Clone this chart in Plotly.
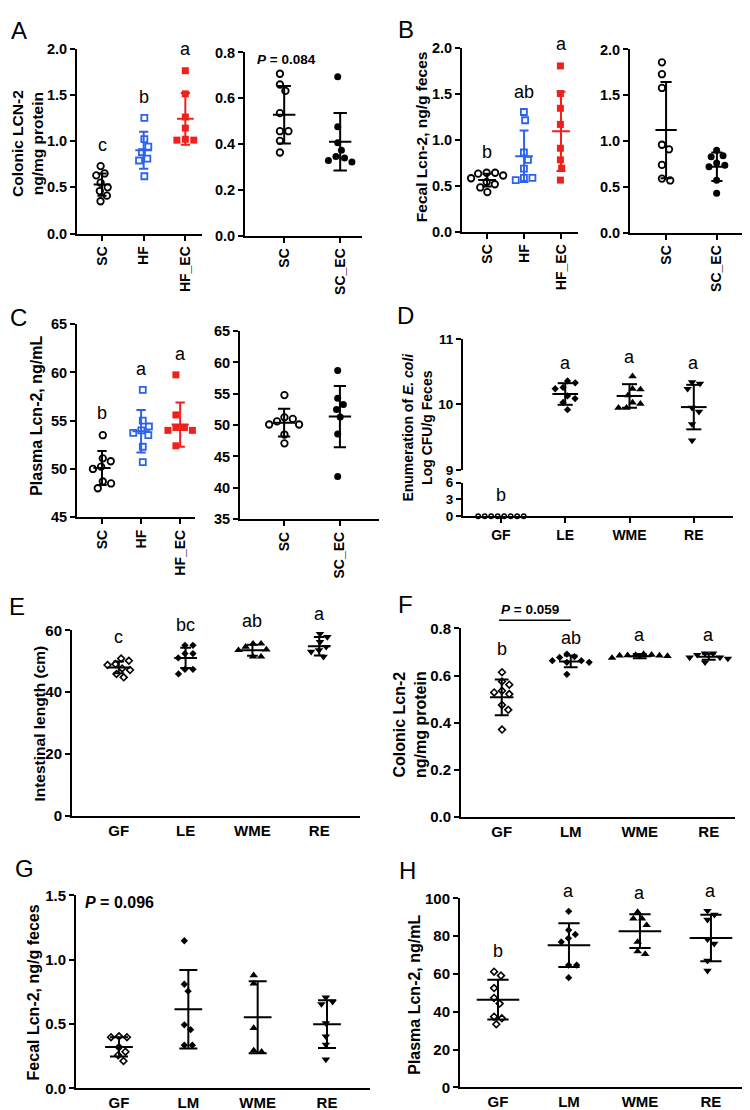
import math
import plotly.graph_objects as go

FW, FH = 750, 1110
FONT = "Liberation Sans, Arial, sans-serif"
BLUE = "#2d62f0"
RED = "#f0201c"
BLACK = "#000000"

# ---------------- DATA ----------------
# Panel A: Colonic LCN-2 (ng/mg protein)
A1_cats = ["SC", "HF", "HF_EC"]
A1_SC = [0.73, 0.65, 0.63, 0.55, 0.50, 0.46, 0.41, 0.35]
A1_HF = [1.25, 1.02, 0.94, 0.88, 0.81, 0.79, 0.62]
A1_HFEC = [1.76, 1.51, 1.26, 1.14, 1.02, 1.01, 1.01]
A1_mean = [0.53, 0.90, 1.24]
A1_sd = [0.12, 0.20, 0.28]
A1_letters = ["c", "b", "a"]

A2_cats = ["SC", "SC_EC"]
A2_SC = [0.707, 0.66, 0.632, 0.535, 0.456, 0.456, 0.414, 0.363]
A2_SCEC = [0.694, 0.476, 0.406, 0.373, 0.339, 0.345, 0.321, 0.328]
A2_mean = [0.528, 0.41]
A2_sd = [0.126, 0.126]
A2_p = "0.084"

# Panel B: Fecal Lcn-2 (ng/g feces)
B1_cats = ["SC", "HF", "HF_EC"]
B1_SC = [0.64, 0.64, 0.63, 0.61, 0.58, 0.54, 0.515, 0.48, 0.43]
B1_HF = [1.30, 1.21, 0.86, 0.78, 0.685, 0.585, 0.585, 0.56]
B1_HFEC = [1.80, 1.50, 1.34, 1.165, 0.906, 0.78, 0.69, 0.56]
B1_mean = [0.56, 0.82, 1.09]
B1_sd = [0.07, 0.28, 0.43]
B1_letters = ["b", "ab", "a"]

B2_cats = ["SC", "SC_EC"]
B2_SC = [1.86, 1.73, 1.58, 0.96, 0.91, 0.74, 0.59, 0.57]
B2_SCEC = [0.90, 0.84, 0.83, 0.76, 0.735, 0.72, 0.573, 0.43]
B2_mean = [1.12, 0.72]
B2_sd = [0.525, 0.155]

# Panel C: Plasma Lcn-2 (ng/mL)
C1_cats = ["SC", "HF", "HF_EC"]
C1_SC = [53.5, 51.1, 50.8, 50.25, 50.0, 48.7, 48.5, 48.0]
C1_HF = [58.2, 55.0, 54.4, 54.0, 53.75, 53.5, 52.3, 50.7]
C1_HFEC = [59.75, 55.6, 54.3, 54.3, 54.0, 54.0, 52.4]
C1_mean = [50.1, 53.9, 54.6]
C1_sd = [1.75, 2.2, 2.3]
C1_letters = ["b", "a", "a"]

C2_cats = ["SC", "SC_EC"]
C2_SC = [54.8, 51.25, 51.0, 50.6, 50.1, 50.1, 48.5, 47.1]
C2_SCEC = [58.7, 54.3, 53.3, 52.5, 51.3, 48.6, 41.8]
C2_mean = [50.4, 51.36]
C2_sd = [2.2, 4.9]

# Panel D: Enumeration of E. coli (log CFU/g feces)
D_cats = ["GF", "LE", "WME", "RE"]
D_GF = [0, 0, 0, 0, 0, 0, 0, 0]
D_LE = [10.36, 10.33, 10.26, 10.24, 10.13, 10.09, 10.03, 9.92]
D_WME = [10.43, 10.24, 10.23, 10.14, 10.03, 10.01, 9.95, 9.95]
D_RE = [10.34, 10.32, 10.24, 9.95, 9.89, 9.70, 9.45]
D_mean = [None, 10.16, 10.13, 9.96]
D_sd = [None, 0.165, 0.18, 0.34]
D_letters = ["b", "a", "a", "a"]

# Panel E: Intestinal length (cm)
E_cats = ["GF", "LE", "WME", "RE"]
E_GF = [50.9, 50.2, 49.1, 48.8, 47.7, 47.2, 45.9, 44.8]
E_LE = [55.2, 55.2, 52.5, 52.5, 51.1, 47.4, 47.4, 45.9]
E_WME = [55.7, 55.7, 54.7, 53.8, 53.6, 51.5, 51.5]
E_RE = [58.9, 57.9, 56.3, 54.7, 53.6, 53.1, 51.5]
E_mean = [48.0, 51.1, 53.6, 54.9]
E_sd = [1.9, 3.3, 1.8, 3.0]
E_letters = ["c", "bc", "ab", "a"]

# Panel F: Colonic Lcn-2 (ng/mg protein)
F_cats = ["GF", "LM", "WME", "RE"]
F_GF = [0.614, 0.575, 0.561, 0.535, 0.528, 0.521, 0.475, 0.454, 0.37]
F_LM = [0.691, 0.68, 0.677, 0.663, 0.663, 0.656, 0.656, 0.605]
F_WME = [0.691, 0.688, 0.687, 0.686, 0.685, 0.685, 0.683, 0.675]
F_RE = [0.694, 0.694, 0.688, 0.677, 0.677, 0.672, 0.656]
F_mean = [0.507, 0.66, 0.682, 0.68]
F_sd = [0.076, 0.025, 0.009, 0.013]
F_letters = ["b", "ab", "a", "a"]
F_p = "0.059"

# Panel G: Fecal Lcn-2 (ng/g feces)
G_cats = ["GF", "LM", "WME", "RE"]
G_GF = [0.404, 0.397, 0.397, 0.32, 0.284, 0.258, 0.212]
G_LM = [1.147, 0.809, 0.755, 0.494, 0.456, 0.335, 0.335]
G_WME = [0.878, 0.814, 0.468, 0.294, 0.284]
G_RE = [0.706, 0.673, 0.655, 0.507, 0.404, 0.34, 0.225]
G_mean = [0.322, 0.614, 0.553, 0.499]
G_sd = [0.075, 0.305, 0.28, 0.185]
G_p = "0.096"

# Panel H: Plasma Lcn-2 (ng/mL)
H_cats = ["GF", "LM", "WME", "RE"]
H_GF = [61.2, 59.1, 52.5, 47.3, 44.3, 37.4, 36.5, 33.4]
H_LM = [93.1, 83.2, 80.9, 78.8, 76.9, 64.7, 64.7, 58.0]
H_WME = [92.7, 89.2, 89.2, 85.8, 76.9, 71.9, 70.5]
H_RE = [93.4, 91.3, 88.7, 78.3, 76.0, 67.0, 61.7]
H_mean = [46.4, 75.2, 82.6, 79.0]
H_sd = [10.5, 11.6, 8.9, 12.3]
H_letters = ["b", "a", "a", "a"]

# ---------------- STYLES ----------------
OPEN_CIRCLE = dict(symbol="circle-open", size=6.5, lw=1.8)
FILL_CIRCLE = dict(symbol="circle", size=7, lw=0)
OPEN_SQUARE = dict(symbol="square-open", size=6, lw=1.8)
FILL_SQUARE = dict(symbol="square", size=7, lw=0)
OPEN_DIAM = dict(symbol="diamond-open", size=5.2, lw=1.6)
FILL_DIAM = dict(symbol="diamond", size=5.6, lw=0)
TRI_UP = dict(symbol="triangle-up", size=7.5, lw=0)
TRI_DN = dict(symbol="triangle-down", size=7.5, lw=0)
SMALL_OPEN_CIRCLE = dict(symbol="circle-open", size=4.5, lw=1.4)


def swarm(vals, ppu, d):
    """Deterministic beeswarm offsets (pixels) so markers do not overlap; centred."""
    n = len(vals)
    order = sorted(range(n), key=lambda i: -vals[i])
    placed = []
    xs = [0.0] * n
    for i in order:
        y = vals[i] * ppu
        cands = [0.0]
        for px, py in placed:
            dy = abs(py - y)
            if dy < d:
                dx = math.sqrt(d * d - dy * dy)
                cands += [px + dx, px - dx]
        cands.sort(key=lambda c: (round(abs(c), 6), -c))
        for c in cands:
            if all((c - px) ** 2 + (y - py) ** 2 >= d * d - 1e-6 for px, py in placed):
                xs[i] = c
                placed.append((c, y))
                break
    shift = (max(xs) + min(xs)) / 2.0
    return [x - shift for x in xs]


def dom(x0, x1, y0, y1):
    return [x0 / FW, x1 / FW], [1 - y1 / FH, 1 - y0 / FH]


def aname(kind, k):
    return kind if k == 1 else f"{kind}{k}"


fig = go.Figure()
layout = {}
annotations = []

panels = [
    dict(id=1, box=(69, 194, 32, 220), xr=(-0.6, 2.4), yr=(0, 2.0), yt=[0, 0.5, 1.0, 1.5, 2.0], fmt=".1f",
         cats=A1_cats, rot=True,
         groups=[(A1_SC, OPEN_CIRCLE, BLACK), (A1_HF, OPEN_SQUARE, BLUE), (A1_HFEC, FILL_SQUARE, RED)],
         mean=A1_mean, sd=A1_sd, mh=0.2, ch=0.11, d=8.5,
         letters=A1_letters, ly=[0.96, 1.48, 1.99]),
    dict(id=2, box=(237, 354, 36, 222), xr=(-0.7, 1.39), yr=(0, 0.8), yt=[0, 0.2, 0.4, 0.6, 0.8], fmt=".1f",
         cats=A2_cats, rot=True,
         groups=[(A2_SC, OPEN_CIRCLE, BLACK), (A2_SCEC, FILL_CIRCLE, BLACK)],
         mean=A2_mean, sd=A2_sd, mh=0.2, ch=0.12, d=8.5),
    dict(id=3, box=(454, 570, 31, 218), xr=(-0.68, 2.46), yr=(0, 2.0), yt=[0, 0.5, 1.0, 1.5, 2.0], fmt=".1f",
         cats=B1_cats, rot=True,
         groups=[(B1_SC, OPEN_CIRCLE, BLACK), (B1_HF, OPEN_SQUARE, BLUE), (B1_HFEC, FILL_SQUARE, RED)],
         mean=B1_mean, sd=B1_sd, mh=0.24, ch=0.12, d=8.5,
         letters=B1_letters, ly=[0.87, 1.52, 2.035]),
    dict(id=4, box=(622, 746, 33, 219), xr=(-0.71, 1.73), yr=(0, 2.0), yt=[0, 0.5, 1.0, 1.5, 2.0], fmt=".1f",
         cats=B2_cats, rot=True,
         groups=[(B2_SC, OPEN_CIRCLE, BLACK), (B2_SCEC, FILL_CIRCLE, BLACK)],
         mean=B2_mean, sd=B2_sd, mh=0.21, ch=0.11, d=8.5),
    dict(id=5, box=(69, 187, 312, 508), xr=(-0.64, 2.38), yr=(45, 65), yt=[45, 50, 55, 60, 65], fmt="d",
         cats=C1_cats, rot=True,
         groups=[(C1_SC, OPEN_CIRCLE, BLACK), (C1_HF, OPEN_SQUARE, BLUE), (C1_HFEC, FILL_SQUARE, RED)],
         mean=C1_mean, sd=C1_sd, mh=0.22, ch=0.12, d=8.5,
         letters=C1_letters, ly=[55.75, 60.4, 61.95]),
    dict(id=6, box=(232, 371, 319, 510), xr=(-0.79, 1.70), yr=(35, 65), yt=[35, 40, 45, 50, 55, 60, 65], fmt="d",
         cats=C2_cats, rot=True,
         groups=[(C2_SC, OPEN_CIRCLE, BLACK), (C2_SCEC, FILL_CIRCLE, BLACK)],
         mean=C2_mean, sd=C2_sd, mh=0.2, ch=0.11, d=8.5),
    dict(id=9, box=(64, 352, 623, 811), xr=(-0.70, 3.61), yr=(0, 60), yt=[0, 20, 40, 60], fmt="d",
         cats=E_cats, rot=False,
         groups=[(E_GF, OPEN_DIAM, BLACK), (E_LE, FILL_DIAM, BLACK), (E_WME, TRI_UP, BLACK), (E_RE, TRI_DN, BLACK)],
         mean=E_mean, sd=E_sd, mh=0.17, ch=0.08, d=8,
         letters=E_letters, ly=[57.9, 61.9, 63.2, 65.3]),
    dict(id=10, box=(453, 727, 621, 812), xr=(-0.59, 3.38), yr=(0, 0.8), yt=[0, 0.2, 0.4, 0.6, 0.8], fmt=".1f",
         cats=F_cats, rot=False,
         groups=[(F_GF, OPEN_DIAM, BLACK), (F_LM, FILL_DIAM, BLACK), (F_WME, TRI_UP, BLACK), (F_RE, TRI_DN, BLACK)],
         mean=F_mean, sd=F_sd, mh=0.17, ch=0.1, d=8,
         letters=F_letters, ly=[0.712, 0.761, 0.771, 0.771]),
    dict(id=11, box=(68, 362, 892, 1088), xr=(-0.62, 3.62), yr=(0, 1.5), yt=[0, 0.5, 1.0, 1.5], fmt=".1f",
         cats=G_cats, rot=False,
         groups=[(G_GF, OPEN_DIAM, BLACK), (G_LM, FILL_DIAM, BLACK), (G_WME, TRI_UP, BLACK), (G_RE, TRI_DN, BLACK)],
         mean=G_mean, sd=G_sd, mh=0.2, ch=0.13, d=8),
    dict(id=12, box=(452, 742, 895, 1087), xr=(-0.535, 3.55), yr=(0, 100), yt=[0, 20, 40, 60, 80, 100], fmt="d",
         cats=H_cats, rot=False,
         groups=[(H_GF, OPEN_DIAM, BLACK), (H_LM, FILL_DIAM, BLACK), (H_WME, TRI_UP, BLACK), (H_RE, TRI_DN, BLACK)],
         mean=H_mean, sd=H_sd, mh=0.3, ch=0.15, d=8,
         letters=H_letters, ly=[72.2, 103.8, 103.0, 103.8]),
]


def axis_style(tsize, ticks=True):
    return dict(showline=True, linecolor=BLACK, linewidth=2, ticks="outside" if ticks else "",
                ticklen=5, tickwidth=2, tickcolor=BLACK, showgrid=False, zeroline=False,
                tickfont=dict(family=FONT, size=tsize, color=BLACK, weight="bold"))


def add_markers(vals, style, color, xpos, ppu, ppc, d, xa, ya):
    offs = swarm(vals, ppu, d)
    xs = [xpos + o / ppc for o in offs]
    fig.add_trace(go.Scatter(
        x=xs, y=vals, xaxis=xa, yaxis=ya, mode="markers", cliponaxis=False, showlegend=False,
        hoverinfo="skip",
        marker=dict(symbol=style["symbol"], size=style["size"], color=color,
                    line=dict(width=style["lw"], color=color))))


def add_errbar(xpos, m, s, mh, ch, color, xa, ya):
    if m is None:
        return
    xs = [xpos - mh, xpos + mh, None, xpos, xpos, None, xpos - ch, xpos + ch, None, xpos - ch, xpos + ch]
    ys = [m, m, None, m - s, m + s, None, m + s, m + s, None, m - s, m - s]
    fig.add_trace(go.Scatter(x=xs, y=ys, xaxis=xa, yaxis=ya, mode="lines", cliponaxis=False,
                             showlegend=False, hoverinfo="skip",
                             line=dict(color=color, width=2)))


def letter(text, x, yval, yr, xa, ya):
    # y given in data units, converted to the axis domain so labels above the range still show
    frac = (yval - yr[0]) / (yr[1] - yr[0])
    annotations.append(dict(x=x, y=frac, xref=xa, yref=f"{ya} domain", text=text, showarrow=False,
                            xanchor="center", yanchor="middle",
                            font=dict(family=FONT, size=18, color=BLACK)))


for p in panels:
    k = p["id"]
    xa, ya = aname("x", k), aname("y", k)
    x0, x1, y0, y1 = p["box"]
    xd, yd = dom(x0, x1, y0, y1)
    top_row = k <= 6
    xt = 14 if top_row else 15
    yt = 14.5 if top_row else 15
    xax = dict(domain=xd, range=list(p["xr"]), anchor=ya, tickmode="array",
               tickvals=list(range(len(p["cats"]))), ticktext=p["cats"],
               tickangle=-90 if p["rot"] else 0, **axis_style(xt, ticks=top_row))
    yax = dict(domain=yd, range=list(p["yr"]), anchor=xa, tickmode="array", tickvals=p["yt"],
               tickformat=p["fmt"], **axis_style(yt))
    layout[aname("xaxis", k)] = xax
    layout[aname("yaxis", k)] = yax
    ppu = (y1 - y0) / (p["yr"][1] - p["yr"][0])
    ppc = (x1 - x0) / (p["xr"][1] - p["xr"][0])
    for gi, (vals, style, color) in enumerate(p["groups"]):
        add_markers(vals, style, color, gi, ppu, ppc, p["d"], xa, ya)
    for gi, (vals, style, color) in enumerate(p["groups"]):
        add_errbar(gi, p["mean"][gi], p["sd"][gi], p["mh"], p["ch"], color, xa, ya)
    if "letters" in p:
        for gi, (t, yy) in enumerate(zip(p["letters"], p["ly"])):
            letter(t, gi, yy, p["yr"], xa, ya)

# ---- Panel D: broken y axis (upper 9-11, lower 0-6) ----
Dx0, Dx1 = 455, 725
Dxr = (-0.59, 3.61)
xd, yd_up = dom(Dx0, Dx1, 327, 460)
_, yd_lo = dom(Dx0, Dx1, 473, 507)
layout["xaxis7"] = dict(domain=xd, range=list(Dxr), anchor="y8", tickmode="array",
                        tickvals=list(range(len(D_cats))), ticktext=D_cats, **axis_style(14))
layout["yaxis7"] = dict(domain=yd_up, range=[9, 11], anchor="x7", tickmode="array", tickvals=[9, 10, 11],
                        tickformat="d", **axis_style(13.5))
layout["yaxis8"] = dict(domain=yd_lo, range=[0, 6], anchor="x7", tickmode="array", tickvals=[0, 3, 6],
                        tickformat="d", **axis_style(13.5))
ppc_D = (Dx1 - Dx0) / (Dxr[1] - Dxr[0])
ppu_up = (460 - 327) / 2.0
ppu_lo = (507 - 473) / 6.0
add_markers(D_GF, SMALL_OPEN_CIRCLE, BLACK, 0, ppu_lo, ppc_D, 6.5, "x7", "y8")
add_markers(D_LE, FILL_DIAM, BLACK, 1, ppu_up, ppc_D, 8, "x7", "y7")
add_markers(D_WME, TRI_UP, BLACK, 2, ppu_up, ppc_D, 8, "x7", "y7")
add_markers(D_RE, TRI_DN, BLACK, 3, ppu_up, ppc_D, 8, "x7", "y7")
for gi in range(1, 4):
    add_errbar(gi, D_mean[gi], D_sd[gi], 0.2, 0.117, BLACK, "x7", "y7")
letter(D_letters[0], 0, 3.8, (0, 6), "x7", "y8")
for gi, yy in zip(range(1, 4), [10.63, 10.73, 10.63]):
    letter(D_letters[gi], gi, yy, (9, 11), "x7", "y7")

# ---- P value texts and bracket ----
annotations.append(dict(x=-0.52, y=0.771, xref="x2", yref="y2", text=f"<b><i>P</i> = {A2_p}</b>",
                        showarrow=False, xanchor="left", yanchor="middle",
                        font=dict(family=FONT, size=13.5, color=BLACK)))
F_ppc = (727 - 453) / (3.38 + 0.59)
annotations.append(dict(x=0.41, y=0.88 / 0.8, xref="x10", yref="y10 domain",
                        text=f"<b><i>P</i> = {F_p}</b>",
                        showarrow=False, xanchor="center", yanchor="middle",
                        font=dict(family=FONT, size=13.5, color=BLACK)))
annotations.append(dict(x=1.0, y=0.835 / 0.8, xref="x10", yref="y10 domain",
                        ax=-(1.0 + 0.06) * F_ppc, ay=0, text="", showarrow=True, arrowhead=0,
                        arrowwidth=1.6, arrowcolor=BLACK, standoff=0, startstandoff=0))
annotations.append(dict(x=-0.52, y=1.446, xref="x11", yref="y11", text=f"<b><i>P</i> = {G_p}</b>",
                        showarrow=False, xanchor="left", yanchor="middle",
                        font=dict(family=FONT, size=16, color=BLACK)))


# ---- Y axis titles (paper coords) ----
def ytitle(text, xpx, ypx, size):
    annotations.append(dict(x=xpx / FW, y=1 - ypx / FH, xref="paper", yref="paper", text=text,
                            showarrow=False, textangle=-90, xanchor="center", yanchor="middle",
                            font=dict(family=FONT, size=size, color=BLACK, weight="bold")))


ytitle("Colonic LCN-2<br>ng/mg protein", 19, 129, 15.5)
ytitle("Fecal Lcn-2, ng/g feces", 413, 122, 15.5)
ytitle("Plasma Lcn-2, ng/mL", 29, 405, 16)
ytitle("Enumeration of <i>E. coli</i><br>Log CFU/g Feces", 409, 417, 14)
ytitle("Intestinal length (cm)", 30.6, 718, 15.5)
ytitle("Colonic Lcn-2<br>ng/mg protein", 402, 719, 16)
ytitle("Fecal Lcn-2, ng/g feces", 25.6, 991, 16)
ytitle("Plasma Lcn-2, ng/mL", 407, 993, 16)

# ---- Panel letters ----
for t, xpx, ypx in [("A", 11, 14), ("B", 398, 13), ("C", 10, 305), ("D", 398, 303),
                    ("E", 9, 599), ("F", 397, 597), ("G", 16, 865), ("H", 399, 867)]:
    annotations.append(dict(x=xpx / FW, y=1 - ypx / FH, xref="paper", yref="paper", text=t,
                            showarrow=False, xanchor="center", yanchor="middle",
                            font=dict(family=FONT, size=24, color=BLACK)))

fig.update_layout(
    width=FW, height=FH, margin=dict(l=0, r=0, t=0, b=0),
    paper_bgcolor="white", plot_bgcolor="white", showlegend=False,
    font=dict(family=FONT, color=BLACK),
    annotations=annotations, **layout)

fig.write_html("out.html")
